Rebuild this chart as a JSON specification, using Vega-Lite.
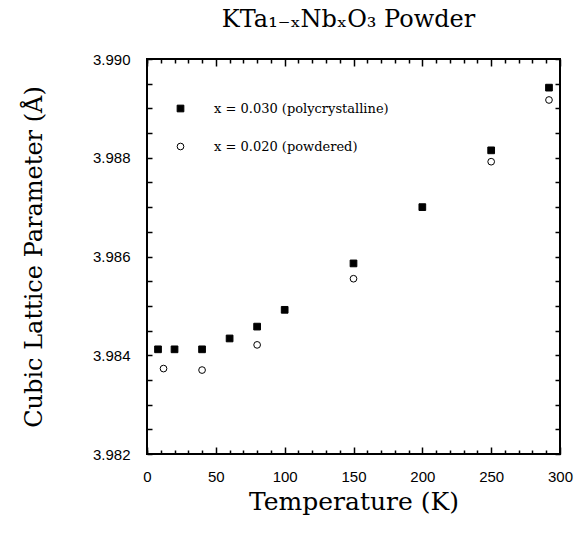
{
  "$schema": "https://vega.github.io/schema/vega-lite/v6.json",
  "width": 413,
  "height": 395,
  "autosize": "none",
  "padding": {"left": 147, "top": 59, "right": 22, "bottom": 88},
  "background": "white",
  "config": {
    "view": {"stroke": "black", "strokeWidth": 2},
    "axis": {"domain": false, "grid": false, "tickColor": "black", "tickWidth": 1.5}
  },
  "title": {
    "text": "KTa₁₋ₓNbₓO₃ Powder",
    "font": "DejaVu Serif",
    "fontSize": 24,
    "fontWeight": "normal",
    "color": "black",
    "offset": 20,
    "anchor": "middle",
    "dx": -5
  },
  "data": {
    "values": [
      {"T": 8, "a": 3.98412, "series": "x = 0.030 (polycrystalline)"},
      {"T": 20, "a": 3.98412, "series": "x = 0.030 (polycrystalline)"},
      {"T": 40, "a": 3.98412, "series": "x = 0.030 (polycrystalline)"},
      {"T": 60, "a": 3.98434, "series": "x = 0.030 (polycrystalline)"},
      {"T": 80, "a": 3.98458, "series": "x = 0.030 (polycrystalline)"},
      {"T": 100, "a": 3.98492, "series": "x = 0.030 (polycrystalline)"},
      {"T": 150, "a": 3.98586, "series": "x = 0.030 (polycrystalline)"},
      {"T": 200, "a": 3.98700, "series": "x = 0.030 (polycrystalline)"},
      {"T": 250, "a": 3.98815, "series": "x = 0.030 (polycrystalline)"},
      {"T": 292, "a": 3.98942, "series": "x = 0.030 (polycrystalline)"},
      {"T": 12, "a": 3.98373, "series": "x = 0.020 (powdered)"},
      {"T": 40, "a": 3.98370, "series": "x = 0.020 (powdered)"},
      {"T": 80, "a": 3.98421, "series": "x = 0.020 (powdered)"},
      {"T": 150, "a": 3.98555, "series": "x = 0.020 (powdered)"},
      {"T": 250, "a": 3.98792, "series": "x = 0.020 (powdered)"},
      {"T": 292, "a": 3.98917, "series": "x = 0.020 (powdered)"}
    ]
  },
  "layer": [
    {
      "mark": {"type": "point", "opacity": 0},
      "encoding": {
        "x": {
          "field": "T", "type": "quantitative",
          "scale": {"domain": [0, 300], "nice": false, "zero": false},
          "axis": {
            "orient": "top", "title": null, "labels": false,
            "values": [0,10,20,30,40,60,70,80,90,110,120,130,140,160,170,180,190,210,220,230,240,260,270,280,290],
            "tickSize": -4
          }
        }
      }
    },
    {
      "mark": {"type": "point", "opacity": 0},
      "encoding": {
        "x": {
          "field": "T", "type": "quantitative",
          "scale": {"domain": [0, 300], "nice": false, "zero": false},
          "axis": {
            "orient": "top", "title": null, "labels": false,
            "values": [0,50,100,150,200,250,300],
            "tickSize": -7
          }
        },
        "y": {
          "field": "a", "type": "quantitative",
          "scale": {"domain": [3.982, 3.990], "nice": false, "zero": false},
          "axis": {
            "orient": "right", "title": null, "labels": false,
            "values": [3.982,3.9825,3.983,3.9835,3.984,3.9845,3.985,3.9855,3.986,3.9865,3.987,3.9875,3.988,3.9885,3.989,3.9895,3.990],
            "tickSize": -5
          }
        }
      }
    },
    {
      "mark": {"type": "point", "opacity": 0},
      "encoding": {
        "x": {
          "field": "T", "type": "quantitative",
          "scale": {"domain": [0, 300], "nice": false, "zero": false},
          "axis": {
            "orient": "bottom", "title": null, "labels": false,
            "values": [0,10,20,30,40,60,70,80,90,110,120,130,140,160,170,180,190,210,220,230,240,260,270,280,290],
            "tickSize": -4
          }
        }
      }
    },
    {
      "mark": {"type": "point", "strokeWidth": 1, "opacity": 1, "size": 45},
      "encoding": {
        "x": {
          "field": "T", "type": "quantitative",
          "scale": {"domain": [0, 300], "nice": false, "zero": false},
          "axis": {
            "orient": "bottom",
            "title": "Temperature (K)",
            "titleFont": "DejaVu Serif", "titleFontSize": 25, "titleFontWeight": "normal",
            "titleColor": "black", "titlePadding": 5,
            "values": [0,50,100,150,200,250,300],
            "labelFont": "Liberation Sans", "labelFontSize": 15, "labelColor": "black",
            "labelPadding": 22, "labelFlush": false, "labelOverlap": false,
            "tickSize": -7
          }
        },
        "y": {
          "field": "a", "type": "quantitative",
          "scale": {"domain": [3.982, 3.990], "nice": false, "zero": false},
          "axis": {
            "orient": "left",
            "title": "Cubic Lattice Parameter (Å)",
            "titleFont": "DejaVu Serif", "titleFontSize": 24, "titleFontWeight": "normal",
            "titleColor": "black", "titlePadding": 46,
            "values": [3.982,3.9825,3.983,3.9835,3.984,3.9845,3.985,3.9855,3.986,3.9865,3.987,3.9875,3.988,3.9885,3.989,3.9895,3.990],
            "labelExpr": "round(datum.value*2000) % 4 == 0 ? format(datum.value, '.3f') : ''",
            "labelFont": "Liberation Sans", "labelFontSize": 15, "labelColor": "black",
            "labelPadding": 22, "labelFlush": false, "labelOverlap": false,
            "tickSize": -5
          }
        },
        "shape": {
          "field": "series", "type": "nominal",
          "scale": {"domain": ["x = 0.030 (polycrystalline)", "x = 0.020 (powdered)"], "range": ["square", "circle"]},
          "legend": {
            "title": null, "orient": "none", "legendX": 27, "legendY": 43,
            "labelFont": "DejaVu Serif", "labelFontSize": 13, "labelColor": "black", "labelLimit": 0,
            "labelOffset": 27, "rowPadding": 24, "symbolStrokeWidth": 1, "symbolSize": 45
          }
        },
        "fill": {
          "field": "series", "type": "nominal",
          "scale": {"domain": ["x = 0.030 (polycrystalline)", "x = 0.020 (powdered)"], "range": ["black", "white"]},
          "legend": {
            "title": null, "orient": "none", "legendX": 27, "legendY": 43,
            "labelFont": "DejaVu Serif", "labelFontSize": 13, "labelColor": "black", "labelLimit": 0,
            "labelOffset": 27, "rowPadding": 24, "symbolStrokeWidth": 1, "symbolSize": 45
          }
        },
        "stroke": {
          "field": "series", "type": "nominal",
          "scale": {"domain": ["x = 0.030 (polycrystalline)", "x = 0.020 (powdered)"], "range": ["black", "black"]},
          "legend": {
            "title": null, "orient": "none", "legendX": 27, "legendY": 43,
            "labelFont": "DejaVu Serif", "labelFontSize": 13, "labelColor": "black", "labelLimit": 0,
            "labelOffset": 27, "rowPadding": 24, "symbolStrokeWidth": 1, "symbolSize": 45
          }
        }
      }
    }
  ],
  "resolve": {
    "scale": {"x": "independent", "y": "independent"},
    "axis": {"x": "independent", "y": "independent"}
  }
}
